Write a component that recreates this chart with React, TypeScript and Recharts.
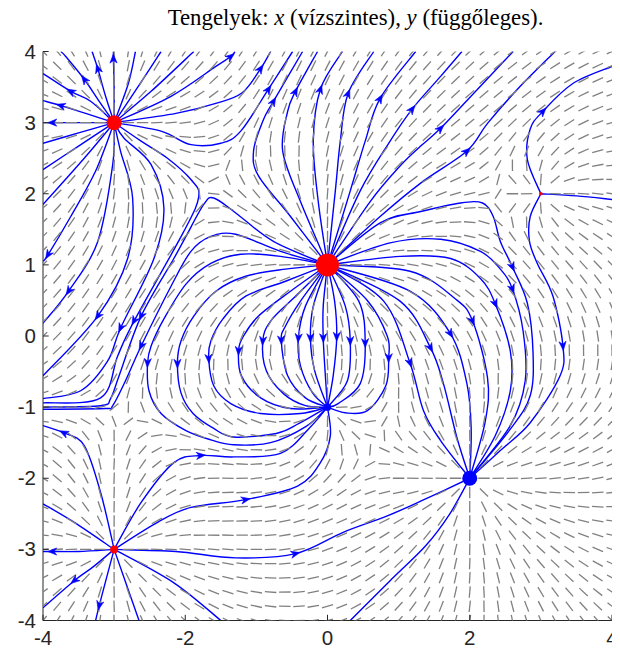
import React from 'react';
import { ComposedChart, XAxis, YAxis, Scatter, Line } from 'recharts';

// ---------- data ----------
// critical points (x, y) and their strength (sign: red source +, blue sink -)
const chargeX = [0, -3, -3, 3, 0, 2];
const chargeY = [1, 3, -3, 2, -1, -2];
const chargeQ = [3, 1.8, 0.9, 0.15, -0.9, -1.6];

// sampling grid of the direction field (both axes)
const gridValues = [-4, -3.8, -3.6, -3.4, -3.2, -3, -2.8, -2.6, -2.4, -2.2, -2, -1.8, -1.6, -1.4, -1.2, -1, -0.8, -0.6, -0.4, -0.2, 0,
  0.2, 0.4, 0.6, 0.8, 1, 1.2, 1.4, 1.6, 1.8, 2, 2.2, 2.4, 2.6, 2.8, 3, 3.2, 3.4, 3.6, 3.8, 4];

const xTicks = [-4, -2, 0, 2, 4];
const yTicks = [-4, -3, -2, -1, 0, 1, 2, 3, 4];

type SL = { p: number[][]; a: number };

// streamlines leaving the source at (-3, 3)
const linesFromA: SL[] = [
  { p: [[-3, 3], [-3, 3.5], [-3.01, 3.9], [-3.01, 4]], a: 2 },
  { p: [[-3, 3], [-3.12, 3.37], [-3.23, 3.76], [-3.31, 4]], a: 2 },
  { p: [[-3, 3], [-3.21, 3.3], [-3.42, 3.61], [-3.68, 3.93], [-3.75, 4]], a: 2 },
  { p: [[-3, 3], [-3.33, 3.3], [-3.61, 3.44], [-4, 3.69]], a: 2 },
  { p: [[-3, 3], [-3.4, 3.13], [-3.75, 3.24], [-4, 3.31]], a: 2 },
  { p: [[-3, 3], [-3.5, 3], [-3.87, 3], [-4, 3]], a: 2 },
  { p: [[-3, 3], [-3.5, 2.855], [-4, 2.71]], a: -1 },
  { p: [[-3, 3], [-3.5, 2.67], [-4, 2.34]], a: -1 },
  { p: [[-3, 3], [-3.42, 2.5], [-4, 1.85]], a: -1 },
  { p: [[-3, 3], [-3.26, 2.32], [-3.61, 1.68], [-3.93, 1.14], [-4, 1.05]], a: 3 },
  { p: [[-3, 3], [-3.02, 2.41], [-3.23, 1.33], [-3.64, 0.63], [-4, 0.18]], a: 3 },
  { p: [[-3, 3], [-2.91, 2.6], [-2.74, 1.94], [-2.81, 1.09], [-3.23, 0.28], [-4, -0.56]], a: 4 },
  { p: [[-3, 3], [-2.86, 2.78], [-2.48, 2.41], [-2.3, 1.8], [-2.44, 1.09], [-2.91, 0.11], [-3.09, -0.35], [-3.47, -0.77], [-4, -0.88]], a: 5 },
  { p: [[-3, 3], [-2.62, 2.74], [-2.25, 2.5], [-1.92, 2.2], [-1.81, 1.96], [-2.02, 1.47], [-2.72, 0.21], [-2.95, -0.28], [-3.19, -0.87], [-4, -0.94]], a: 6 },
  { p: [[-3, 3], [-2.34, 2.88], [-1.92, 2.69], [-1.5, 2.71], [-1.22, 2.88], [-0.83, 3.47], [-0.49, 4]], a: 5 },
  { p: [[-3, 3], [-2.13, 3.13], [-1.57, 3.27], [-1.2, 3.42], [-0.94, 3.76], [-0.8, 4]], a: 4 },
  { p: [[-3, 3], [-2.2, 3.37], [-1.57, 3.79], [-1.36, 3.93], [-1.3, 4]], a: 3 },
  { p: [[-3, 3], [-2.48, 3.44], [-1.88, 4]], a: -1 },
  { p: [[-3, 3], [-2.6, 3.6], [-2.34, 4]], a: -1 },
  { p: [[-3, 3], [-2.8, 3.55], [-2.7, 4]], a: -1 },
];

// streamlines leaving the big source at (0, 1)
const linesFromB: SL[] = [
  { p: [[0, 1], [-0.76, 1.33], [-1.29, 1.73], [-1.6, 1.94], [-1.74, 1.85], [-1.99, 1.4], [-2.16, 1.09], [-2.62, 0.28], [-2.93, -0.56], [-3.05, -0.88], [-3.19, -0.98], [-4, -1]], a: 7 },
  { p: [[0, 1], [-0.66, 1.19], [-1.29, 1.43], [-1.64, 1.4], [-1.92, 1.19], [-2.2, 0.7], [-2.62, -0.14], [-2.84, -0.63], [-3.02, -0.98], [-3.12, -1.02], [-4, -1.03]], a: 6 },
  { p: [[0, 1], [-0.66, 1.12], [-1.22, 1.15], [-1.64, 1.02], [-1.99, 0.73], [-2.3, 0.24], [-2.48, -0.14], [-2.53, -0.38], [-2.51, -0.77], [-2.34, -1.09], [-1.99, -1.33], [-1.64, -1.46], [-1.32, -1.53], [-0.8, -1.5], [-0.3, -1.27], [0, -1]], a: 7 },
  { p: [[0, 1], [-0.59, 0.94], [-1.15, 0.84], [-1.57, 0.63], [-1.88, 0.28], [-2.06, -0.07], [-2.11, -0.39], [-2.06, -0.8], [-1.89, -1.09], [-1.6, -1.3], [-1.32, -1.42], [-0.72, -1.37], [-0.4, -1.23], [0, -1]], a: 6 },
  { p: [[0, 1], [-0.59, 0.77], [-1.15, 0.56], [-1.47, 0.24], [-1.64, -0.07], [-1.67, -0.32], [-1.6, -0.7], [-1.36, -0.95], [-0.94, -1.09], [-0.38, -1.09], [0, -1]], a: 5 },
  { p: [[0, 1], [-0.52, 0.63], [-0.97, 0.28], [-1.18, 0], [-1.25, -0.21], [-1.21, -0.56], [-0.94, -0.87], [-0.52, -1.02], [0, -1]], a: 4 },
  { p: [[0, 1], [-0.45, 0.56], [-0.8, 0.21], [-0.91, -0.07], [-0.86, -0.49], [-0.62, -0.81], [-0.31, -0.98], [0, -1]], a: 3 },
  { p: [[0, 1], [-0.38, 0.49], [-0.59, 0.14], [-0.65, -0.06], [-0.56, -0.56], [-0.31, -0.87], [0, -1]], a: 3 },
  { p: [[0, 1], [-0.31, 0.42], [-0.41, -0.03], [-0.38, -0.42], [-0.21, -0.8], [0, -1]], a: 2 },
  { p: [[0, 1], [-0.2, 0.42], [-0.24, -0.03], [-0.18, -0.49], [0, -1]], a: 2 },
  { p: [[0, 1], [-0.06, 0.42], [-0.06, -0.03], [-0.03, -0.56], [0, -1]], a: 2 },
  { p: [[0, 1], [0.1, 0.49], [0.13, -0.01], [0.08, -0.56], [0, -1]], a: 2 },
  { p: [[0, 1], [0.25, 0.42], [0.32, -0.07], [0.28, -0.63], [0, -1]], a: 2 },
  { p: [[0, 1], [0.44, 0.49], [0.53, -0.1], [0.46, -0.67], [0.15, -0.95], [0, -1]], a: 2 },
  { p: [[0, 1], [0.56, 0.5], [0.84, 0], [0.86, -0.31], [0.82, -0.7], [0.56, -1.05], [0.25, -1.08], [0, -1]], a: 3 },
  { p: [[0, 1], [0.79, 0.49], [1.16, -0.38], [1.35, -1.05], [1.59, -1.47], [2, -2]], a: 2 },
  { p: [[0, 1], [1.02, 0.49], [1.45, -0.17], [1.63, -0.67], [1.82, -1.43], [2, -2]], a: 2 },
  { p: [[0, 1], [1.16, 0.63], [1.73, 0.03], [1.96, -0.67], [2.02, -1.3], [2, -2]], a: 2 },
  { p: [[0, 1], [1.16, 0.91], [1.8, 0.52], [2.04, 0.21], [2.25, -0.59], [2.22, -1.19], [2, -2]], a: 3 },
  { p: [[0, 1], [1.02, 1.12], [1.73, 1.09], [2.15, 0.81], [2.36, 0.45], [2.57, -0.21], [2.57, -0.77], [2.36, -1.4], [2, -2]], a: 4 },
  { p: [[0, 1], [0.88, 1.31], [1.59, 1.36], [2.15, 1.19], [2.43, 0.94], [2.6, 0.66], [2.75, 0.07], [2.78, -0.63], [2.57, -1.26], [2, -2]], a: 5 },
  { p: [[0, 1], [0.74, 1.59], [1.31, 1.75], [1.87, 1.87], [2.18, 1.87], [2.33, 1.68], [2.43, 1.33], [2.6, 0.97], [2.81, 0.46], [2.89, -0.24], [2.85, -0.84], [2.57, -1.31], [2, -2]], a: 7 },
  { p: [[0, 1], [0.74, 1.68], [1.31, 2.15], [1.96, 2.6], [2.25, 2.99], [2.7, 3.5], [3.2, 4]], a: 3 },
  { p: [[0, 1], [0.6, 1.89], [1.02, 2.39], [1.31, 2.67], [1.59, 2.92], [2.1, 3.46], [2.61, 4]], a: 4 },
  { p: [[0, 1], [0.46, 2.04], [0.88, 2.74], [1.19, 3.19], [1.59, 3.65], [1.89, 4]], a: 3 },
  { p: [[0, 1], [0.32, 2.04], [0.53, 2.74], [0.74, 3.34], [1.24, 4]], a: 3 },
  { p: [[0, 1], [0.11, 2.04], [0.18, 2.74], [0.29, 3.41], [0.65, 4]], a: 3 },
  { p: [[0, 1], [-0.13, 1.89], [-0.2, 2.74], [-0.1, 3.47], [0.21, 4]], a: 3 },
  { p: [[0, 1], [-0.38, 1.89], [-0.63, 2.6], [-0.56, 3.16], [-0.45, 3.44], [-0.14, 4]], a: 4 },
  { p: [[0, 1], [-0.52, 1.68], [-0.97, 2.25], [-1.04, 2.6], [-0.91, 3.02], [-0.76, 3.3], [-0.35, 4]], a: 5 },
];

// streamlines leaving the source at (-3, -3)
const linesFromC: SL[] = [
  { p: [[-3, -3], [-2.13, -3.03], [-1.29, -3.12], [-0.45, -3.06], [0.22, -2.76], [0.84, -2.53], [1.38, -2.29], [2, -2]], a: 3 },
  { p: [[-3, -3], [-2.39, -2.62], [-1.92, -2.41], [-1.15, -2.3], [-0.42, -2.11], [-0.1, -1.78], [0.04, -1.4], [0, -1]], a: 3 },
  { p: [[-3, -3], [-2.62, -2.34], [-2.16, -1.78], [-1.78, -1.68], [-1.32, -1.7], [-0.66, -1.65], [-0.26, -1.3], [0, -1]], a: 3 },
  { p: [[-3, -3], [-3.19, -2.2], [-3.42, -1.54], [-3.71, -1.36], [-4, -1.26]], a: 3 },
  { p: [[-3, -3], [-3.56, -2.62], [-4, -2.36]], a: -1 },
  { p: [[-3, -3], [-3.5, -3.03], [-3.87, -3.03], [-4, -3.03]], a: 2 },
  { p: [[-3, -3], [-3.3, -3.25], [-3.56, -3.44], [-4, -3.82]], a: 2 },
  { p: [[-3, -3], [-3.12, -3.45], [-3.21, -3.79], [-3.26, -4]], a: 2 },
  { p: [[-3, -3], [-2.65, -4]], a: -1 },
  { p: [[-3, -3], [-2.16, -3.47], [-1.5, -4]], a: -1 },
];

// streamlines leaving the small source at (3, 2) and the one entering from the bottom edge
const linesFromD: SL[] = [
  { p: [[3, 2], [2.81, 2.48], [2.85, 2.91], [3.03, 3.16], [3.45, 3.55], [4, 3.79]], a: 3 },
  { p: [[3, 2], [3.5, 1.97], [4, 1.92]], a: -1 },
  { p: [[3, 2], [2.85, 1.68], [2.84, 1.33], [2.95, 1.02], [3.17, 0.56], [3.31, -0.14], [3.27, -0.56], [2.85, -1.22], [2.43, -1.61], [2, -2]], a: 5 },
  { p: [[0.32, -4], [0.88, -3.44], [1.38, -2.95], [1.72, -2.5], [2, -2]], a: -1 },
];

// ---------- styles ----------
const markerRadius = [11.5, 7.5, 4, 1.8, 3.7, 7.5];
const AXIS_COLOR = '#262626';
const LINE_COLOR = '#0000ff';
const DASH_COLOR = '#808080';
const DASH_LEN = 11.5;
const TICK_FONT = '"Liberation Sans", Arial, sans-serif';

// direction of the field at each grid node, from the point strengths above
const fieldPoints: { x: number; y: number; ang: number }[] = [];
for (const gx of gridValues) {
  for (const gy of gridValues) {
    let ex = 0, ey = 0, skip = false;
    for (let k = 0; k < chargeQ.length; k++) {
      const dx = gx - chargeX[k], dy = gy - chargeY[k];
      const r2 = dx * dx + dy * dy;
      if (r2 < 1e-9) { skip = true; break; }
      const r3 = r2 * Math.sqrt(r2);
      ex += (chargeQ[k] * dx) / r3;
      ey += (chargeQ[k] * dy) / r3;
    }
    if (!skip) fieldPoints.push({ x: gx, y: gy, ang: Math.atan2(ey, ex) });
  }
}

const allLines: SL[] = [...linesFromA, ...linesFromB, ...linesFromC, ...linesFromD];

const arrowPoints = allLines
  .filter((l) => l.a > 0)
  .map((l) => {
    const prev = l.p[l.a - 1];
    const next = l.p[Math.min(l.a + 1, l.p.length - 1)];
    return { x: l.p[l.a][0], y: l.p[l.a][1], ang: Math.atan2(next[1] - prev[1], next[0] - prev[0]) };
  });

const criticalPoints = chargeX.map((x, i) => ({ x, y: chargeY[i], q: chargeQ[i], i }));

// smooth curve passing through the read points (Catmull-Rom)
const catmullRom = (context: any) => {
  let pts: number[][] = [];
  return {
    areaStart() {},
    areaEnd() {},
    lineStart() { pts = []; },
    point(x: number, y: number) { pts.push([x, y]); },
    lineEnd() {
      const n = pts.length;
      if (!n) return;
      context.moveTo(pts[0][0], pts[0][1]);
      for (let i = 0; i < n - 1; i++) {
        const p0 = pts[Math.max(i - 1, 0)];
        const p1 = pts[i];
        const p2 = pts[i + 1];
        const p3 = pts[Math.min(i + 2, n - 1)];
        context.bezierCurveTo(
          p1[0] + (p2[0] - p0[0]) / 6, p1[1] + (p2[1] - p0[1]) / 6,
          p2[0] - (p3[0] - p1[0]) / 6, p2[1] - (p3[1] - p1[1]) / 6,
          p2[0], p2[1]
        );
      }
    },
  };
};

const DashShape = (props: any) => {
  const { cx, cy, payload } = props;
  if (cx == null || cy == null) return null;
  const h = DASH_LEN / 2;
  const dx = Math.cos(payload.ang) * h;
  const dy = -Math.sin(payload.ang) * h;
  return <line x1={cx - dx} y1={cy - dy} x2={cx + dx} y2={cy + dy} stroke={DASH_COLOR} strokeWidth={1.3} />;
};

const ArrowShape = (props: any) => {
  const { cx, cy, payload } = props;
  if (cx == null || cy == null) return null;
  const c = Math.cos(payload.ang);
  const s = -Math.sin(payload.ang);
  const L = 9;
  const W = 3.6;
  const tx = cx + c * L * 0.5, ty = cy + s * L * 0.5;
  const bx = cx - c * L * 0.5, by = cy - s * L * 0.5;
  const nx = cx - c * L * 0.2, ny = cy - s * L * 0.2;
  const px = -s, py = c;
  const d = `M${tx},${ty}L${bx + px * W},${by + py * W}L${nx},${ny}L${bx - px * W},${by - py * W}Z`;
  return <path d={d} fill={LINE_COLOR} stroke={LINE_COLOR} strokeWidth={0.6} />;
};

const DotShape = (props: any) => {
  const { cx, cy, payload } = props;
  if (cx == null || cy == null) return null;
  return <circle cx={cx} cy={cy} r={markerRadius[payload.i]} fill={payload.q > 0 ? '#ff0000' : '#0000ff'} />;
};

const XTick = (props: any) => {
  const { x, y, payload } = props;
  return (
    <g>
      <line x1={x} y1={y} x2={x} y2={y - 5.7} stroke={AXIS_COLOR} strokeWidth={1} />
      <text x={x} y={y + 24} textAnchor="middle" fontFamily={TICK_FONT} fontSize={20.5} fill={AXIS_COLOR}>
        {String(payload.value)}
      </text>
    </g>
  );
};

const YTick = (props: any) => {
  const { x, y, payload } = props;
  return (
    <g>
      <line x1={x} y1={y} x2={x + 5.7} y2={y} stroke={AXIS_COLOR} strokeWidth={1} />
      <text x={x - 7} y={y + 7} textAnchor="end" fontFamily={TICK_FONT} fontSize={20.5} fill={AXIS_COLOR}>
        {String(payload.value)}
      </text>
    </g>
  );
};

export default function App() {
  return (
    <div style={{ position: 'relative', width: 612, height: 641 }}>
      <ComposedChart width={612} height={641} margin={{ top: 43.5, right: 8, bottom: 0, left: 0 }}>
        <XAxis
          type="number"
          dataKey="x"
          domain={[-4, 4]}
          ticks={xTicks}
          allowDataOverflow
          height={28.5}
          tickSize={0}
          tickMargin={0}
          tickLine={false}
          axisLine={{ stroke: AXIS_COLOR, strokeWidth: 1 }}
          tick={<XTick />}
          interval={0}
        />
        <YAxis
          type="number"
          dataKey="y"
          domain={[-4, 4]}
          ticks={yTicks}
          allowDataOverflow
          width={35}
          tickSize={0}
          tickMargin={0}
          tickLine={false}
          axisLine={{ stroke: AXIS_COLOR, strokeWidth: 1 }}
          tick={<YTick />}
          interval={0}
        />
        <Scatter data={fieldPoints} shape={<DashShape />} isAnimationActive={false} />
        {allLines.map((l, i) => (
          <Line
            key={'sl' + i}
            data={l.p.map(([x, y]) => ({ x, y }))}
            dataKey="y"
            type={catmullRom as any}
            stroke={LINE_COLOR}
            strokeWidth={1.4}
            dot={false}
            activeDot={false}
            isAnimationActive={false}
          />
        ))}
        <Scatter data={arrowPoints} shape={<ArrowShape />} isAnimationActive={false} />
        <Scatter data={criticalPoints} shape={<DotShape />} isAnimationActive={false} />
      </ComposedChart>
      <div
        style={{
          position: 'absolute',
          left: 83,
          right: 0,
          top: -4,
          textAlign: 'center',
          fontFamily: '"Liberation Serif", "Times New Roman", serif',
          fontSize: 22.8,
          lineHeight: '28px',
          color: '#000',
          whiteSpace: 'nowrap',
          zIndex: 2,
        }}
      >
        Tengelyek: <i>x</i> (vízszintes), <i>y</i> (függőleges).
      </div>
    </div>
  );
}
